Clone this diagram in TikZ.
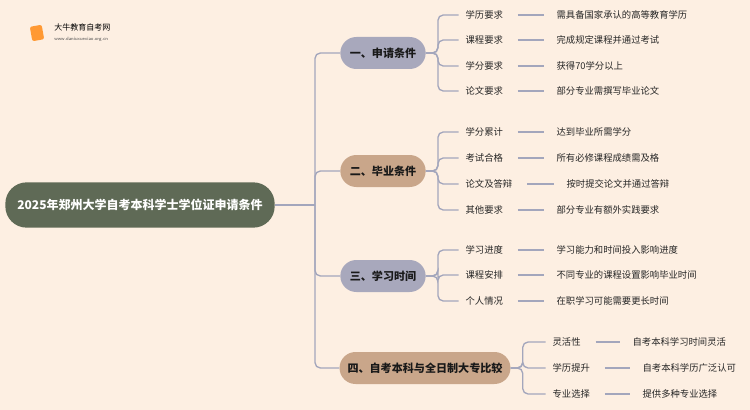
\documentclass[tikz,border=0pt]{standalone}
\usepackage{fontspec}
\newfontfamily\cjk{Noto Sans CJK SC}
\usetikzlibrary{positioning}
\definecolor{bg}{HTML}{FDEFE2}
\definecolor{ln}{HTML}{A3A6BC}
\definecolor{lav}{HTML}{A8A8BC}
\definecolor{tan}{HTML}{C9A68A}
\definecolor{rootc}{HTML}{5F6A56}
\begin{document}
\begin{tikzpicture}[x=0.75pt,y=-0.75pt,
  conn/.style={draw=ln,line width=1pt,rounded corners=4pt},
  br/.style={rounded corners=12pt,inner xsep=6pt,text=black!90,font=\cjk\bfseries\fontsize{8.3}{10}\selectfont,minimum height=24pt},
  leaf/.style={anchor=west,font=\cjk\fontsize{7}{8}\selectfont,text=black!85,inner sep=1pt},
  ]
\fill[bg] (0,0) rectangle (750,410);
\useasboundingbox (0,0) rectangle (750,410);
% logo
\node[rounded corners=1.5pt,fill=orange!80,minimum width=9pt,minimum height=11pt,inner sep=0,rotate=10] (logo) at (37,33) {};
\node[font=\cjk\fontsize{6}{7}\selectfont,anchor=west,inner sep=0] (lt) at (54,27) {大牛教育自考网};
\node[font=\sffamily\fontsize{3.6}{4}\selectfont,anchor=west,inner sep=0,text=black!70] (lu) at (54,39) {www.daniuxuexiao.org.cn};
% root
\node[fill=rootc,rounded corners=16pt,minimum width=202pt,minimum height=34pt,text=white,font=\cjk\bfseries\fontsize{9}{11}\selectfont] (root) at (140,205) {2025年郑州大学自考本科学士学位证申请条件};
% branches
\node[br,fill=lav,minimum width=64pt] (b1) at (383,53) {一、申请条件};
\node[br,fill=tan,minimum width=64pt] (b2) at (383,171) {二、毕业条件};
\node[br,fill=lav,minimum width=64pt] (b3) at (383,276) {三、学习时间};
\node[br,fill=tan,minimum width=128pt] (b4) at (425,368) {四、自考本科与全日制大专比较};
\coordinate (t) at (315,205);
\draw[conn] (root.east) -- (t);
\foreach \b in {b1,b2,b3,b4}{\draw[conn] (t) |- (\b.west);}
% leaves
\newcommand\mkleaf[7]{% branch, key, y, label, value, lx, vx
  \node[leaf] (#2) at (#6,#3) {#4};
  \node[leaf] (#2v) at (#7,#3) {#5};
  \draw[conn] (#1.east) -- ++(12,0) coordinate (#2c) |- ([xshift=-4pt]#2.west);
  \draw[conn] ([xshift=10pt]#2.east) -- ([xshift=-8pt]#2v.west);
}
\mkleaf{b1}{a1}{15}{学历要求}{需具备国家承认的高等教育学历}{464}{555}
\mkleaf{b1}{a2}{40}{课程要求}{完成规定课程并通过考试}{464}{555}
\mkleaf{b1}{a3}{66}{学分要求}{获得70学分以上}{464}{555}
\mkleaf{b1}{a4}{91}{论文要求}{部分专业需撰写毕业论文}{464}{555}
\mkleaf{b2}{c1}{132}{学分累计}{达到毕业所需学分}{464}{555}
\mkleaf{b2}{c2}{158}{考试合格}{所有必修课程成绩需及格}{464}{555}
\mkleaf{b2}{c3}{184}{论文及答辩}{按时提交论文并通过答辩}{464}{565}
\mkleaf{b2}{c4}{210}{其他要求}{部分专业有额外实践要求}{464}{555}
\mkleaf{b3}{d1}{250}{学习进度}{学习能力和时间投入影响进度}{464}{555}
\mkleaf{b3}{d2}{275}{课程安排}{不同专业的课程设置影响毕业时间}{464}{555}
\mkleaf{b3}{d3}{301}{个人情况}{在职学习可能需要更长时间}{464}{555}
\mkleaf{b4}{e1}{342}{灵活性}{自考本科学习时间灵活}{551}{631}
\mkleaf{b4}{e2}{368}{学历提升}{自考本科学历广泛认可}{551}{641}
\mkleaf{b4}{e3}{394}{专业选择}{提供多种专业选择}{551}{641}
\end{tikzpicture}
\end{document}
